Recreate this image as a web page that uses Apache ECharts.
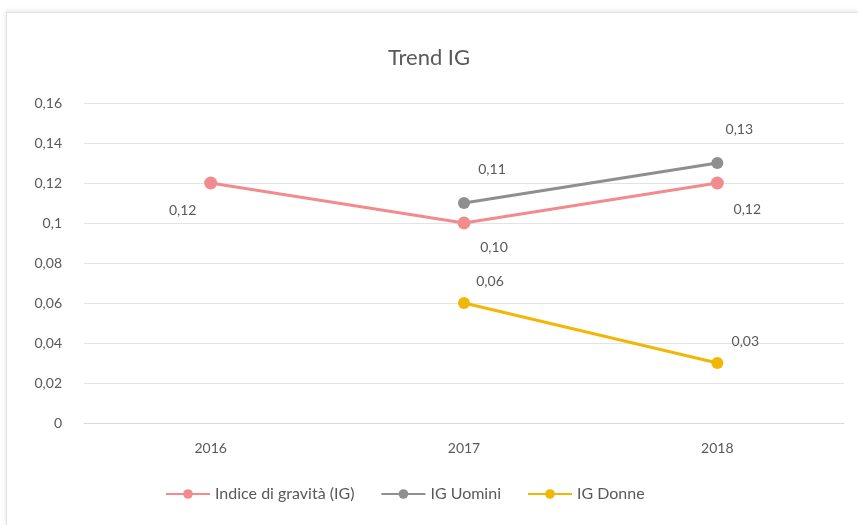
<!DOCTYPE html>
<html>
<head>
<meta charset="utf-8">
<script src="https://cdn.jsdelivr.net/npm/echarts@6/dist/echarts.min.js"></script>
<style>
  html, body { margin: 0; padding: 0; background: #fff; }
  #frame {
    position: absolute; left: 6px; top: 12px; width: 852px; height: 513px;
    border-top: 1px solid #e2e2e2; border-left: 1px solid #e2e2e2;
    box-shadow: -1px -2px 4px rgba(0,0,0,0.08);
  }
  #main { position: absolute; left: 0; top: 0; width: 858px; height: 525px; }
</style>
</head>
<body>
<div id="frame"></div>
<div id="main"></div>
<script>
// dati
const years = ['2016', '2017', '2018'];
const igTotale = [0.12, 0.10, 0.12];
const igUomini = [null, 0.11, 0.13];
const igDonne = [null, 0.06, 0.03];
const yTicks = ['0', '0,02', '0,04', '0,06', '0,08', '0,1', '0,12', '0,14', '0,16'];

const PINK = '#F28B8D';
const GREY = '#8F8F8F';
const GOLD = '#F2B705';
const TEXT = '#595959';
const FONT = 'Lato, "Open Sans", sans-serif';

function fmt(p) {
  return p.value == null ? '' : p.value.toFixed(2).replace('.', ',');
}

var chart = echarts.init(document.getElementById('main'), null, { renderer: 'canvas' });

var labelStyle = { show: true, formatter: fmt, color: TEXT, fontSize: 14, fontFamily: FONT };

var option = {
  animation: false,
  textStyle: { fontFamily: FONT },
  title: {
    text: 'Trend IG',
    left: 'center',
    top: 42,
    textStyle: { color: TEXT, fontSize: 22, fontWeight: 'normal', fontFamily: FONT }
  },
  legend: {
    bottom: 18,
    left: 160,
    itemWidth: 44,
    itemHeight: 12,
    itemGap: 26,
    textStyle: { color: TEXT, fontSize: 16, fontFamily: FONT },
    data: ['Indice di gravità (IG)', 'IG Uomini', 'IG Donne']
  },
  grid: { left: 84, right: 14, top: 103, bottom: 102 },
  xAxis: {
    type: 'category',
    data: years,
    boundaryGap: true,
    axisTick: { show: false },
    axisLine: { lineStyle: { color: '#d9d9d9' } },
    axisLabel: { color: TEXT, fontSize: 14, margin: 18 }
  },
  yAxis: {
    type: 'value',
    min: 0,
    max: 0.16,
    interval: 0.02,
    axisLine: { show: false },
    axisTick: { show: false },
    splitLine: { lineStyle: { color: '#e3e3e3' } },
    axisLabel: {
      color: TEXT, fontSize: 14, margin: 22,
      formatter: function (v) { return yTicks[Math.round(v / 0.02)]; }
    }
  },
  series: [
    {
      name: 'Indice di gravità (IG)',
      type: 'line',
      data: igTotale,
      color: PINK,
      symbol: 'circle',
      symbolSize: 13,
      lineStyle: { width: 3, color: PINK },
      itemStyle: { color: PINK },
      label: Object.assign({}, labelStyle, { position: 'bottom', distance: 12 }),
      labelLayout: function (p) {
        if (p.dataIndex === 0) return { dx: -28, dy: 2 };
        return { dx: 30, dy: p.dataIndex === 1 ? -1 : 1 };
      }
    },
    {
      name: 'IG Uomini',
      type: 'line',
      data: igUomini,
      color: GREY,
      symbol: 'circle',
      symbolSize: 12,
      lineStyle: { width: 3, color: GREY },
      itemStyle: { color: GREY },
      label: Object.assign({}, labelStyle, { position: 'top', distance: 16 }),
      labelLayout: function (p) {
        return { dx: p.dataIndex === 2 ? 22 : 28, dy: -5 };
      }
    },
    {
      name: 'IG Donne',
      type: 'line',
      data: igDonne,
      color: GOLD,
      symbol: 'circle',
      symbolSize: 12,
      lineStyle: { width: 3, color: GOLD },
      itemStyle: { color: GOLD },
      label: Object.assign({}, labelStyle, { position: 'top', distance: 12 }),
      labelLayout: function (p) { return { dx: p.dataIndex === 1 ? 26 : 28, dy: 3 }; }
    }
  ]
};

chart.setOption(option);
</script>
</body>
</html>
